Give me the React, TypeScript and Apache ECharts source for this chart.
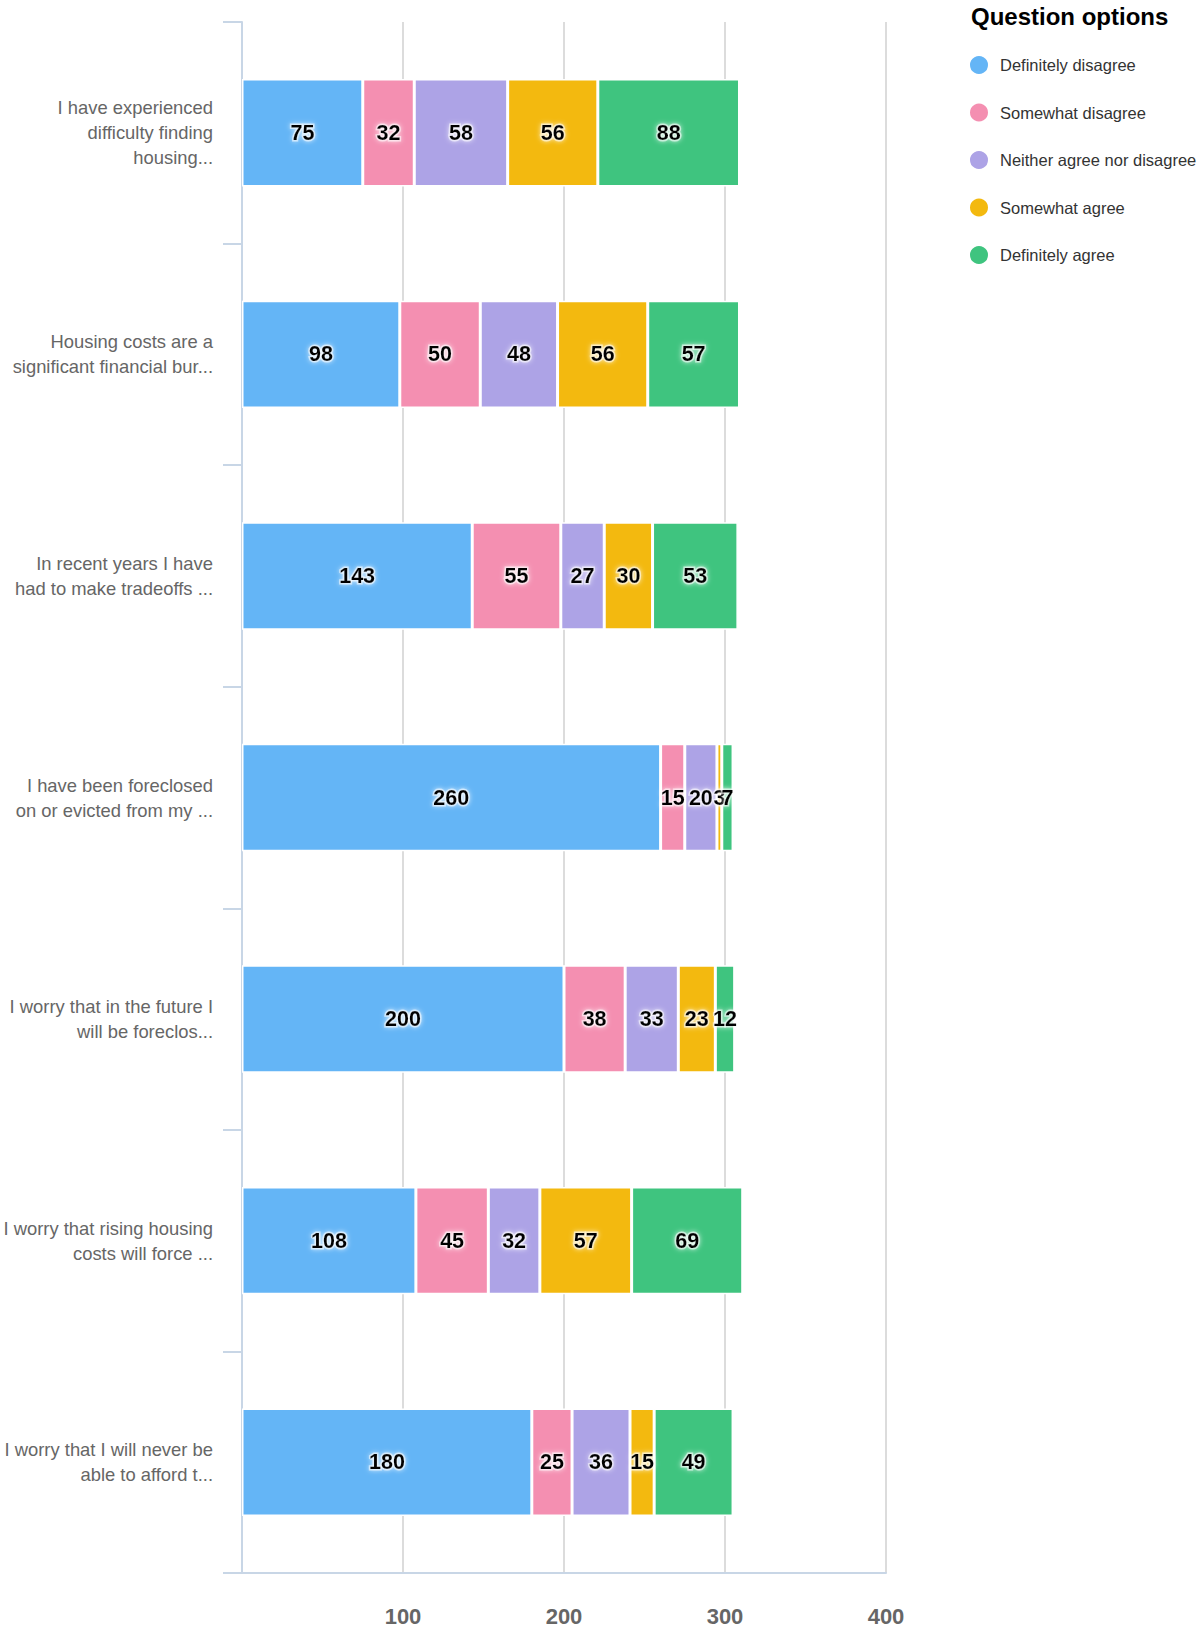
import React, { useEffect, useRef } from "react";
import * as echarts from "echarts";

const categories = [
  "I have experienced\ndifficulty finding\nhousing...",
  "Housing costs are a\nsignificant financial bur...",
  "In recent years I have\nhad to make tradeoffs ...",
  "I have been foreclosed\non or evicted from my ...",
  "I worry that in the future I\nwill be foreclos...",
  "I worry that rising housing\ncosts will force ...",
  "I worry that I will never be\nable to afford t...",
];

const seriesNames = [
  "Definitely disagree",
  "Somewhat disagree",
  "Neither agree nor disagree",
  "Somewhat agree",
  "Definitely agree",
];

const definitelyDisagree = [75, 98, 143, 260, 200, 108, 180];
const somewhatDisagree = [32, 50, 55, 15, 38, 45, 25];
const neither = [58, 48, 27, 20, 33, 32, 36];
const somewhatAgree = [56, 56, 30, 3, 23, 57, 15];
const definitelyAgree = [88, 57, 53, 7, 12, 69, 49];

const seriesValues = [definitelyDisagree, somewhatDisagree, neither, somewhatAgree, definitelyAgree];
const colors = ["#64b5f6", "#f48fb1", "#ada3e6", "#f3b90f", "#3fc47f"];

const xTicks = [0, 100, 200, 300, 400];

const FONT = "'Liberation Sans', Arial, Helvetica, sans-serif";

export default function App() {
  const ref = useRef<HTMLDivElement>(null);
  useEffect(() => {
    if (!ref.current) return;
    const chart = echarts.init(ref.current, undefined, { renderer: "svg" });
    chart.setOption({
      animation: false,
      textStyle: { fontFamily: FONT },
      title: {
        text: "Question options",
        left: 971,
        top: 4,
        padding: 0,
        textStyle: { fontSize: 24, fontWeight: "bold", color: "#000", fontFamily: FONT },
      },
      legend: {
        orient: "vertical",
        left: 968,
        top: 54,
        padding: 0,
        icon: "circle",
        itemWidth: 26,
        itemHeight: 20,
        itemGap: 25.5,
        data: seriesNames,
        textStyle: { fontSize: 16.5, color: "#333", fontFamily: FONT, padding: [0, 0, 0, 3] },
      },
      grid: { left: 242, right: 318, top: 22, bottom: 57, containLabel: false },
      xAxis: {
        type: "value",
        min: xTicks[0],
        max: xTicks[xTicks.length - 1],
        interval: 100,
        axisLine: { show: true, lineStyle: { color: "#c8d6e6", width: 2 } },
        axisTick: { show: false },
        splitLine: { show: true, lineStyle: { color: "#dcdcdc", width: 2 } },
        axisLabel: {
          margin: 32,
          fontSize: 22,
          fontWeight: "bold",
          color: "#666",
          fontFamily: FONT,
          formatter: (v: number) => (v === 0 ? "" : String(v)),
        },
      },
      yAxis: {
        type: "category",
        inverse: true,
        data: categories,
        axisLine: { show: true, lineStyle: { color: "#c8d6e6", width: 2 } },
        axisTick: { show: true, length: 19, lineStyle: { color: "#c8d6e6", width: 2 } },
        axisLabel: {
          margin: 29,
          fontSize: 18.4,
          lineHeight: 25,
          color: "#666",
          align: "right",
          fontFamily: FONT,
        },
      },
      series: seriesNames.map((name, i) => ({
        name,
        type: "bar",
        stack: "total",
        barCategoryGap: "51.5%",
        data: seriesValues[i],
        itemStyle: { color: colors[i], borderColor: "#fff", borderWidth: 1.5 },
        label: {
          show: true,
          position: "inside",
          fontSize: 21.5,
          fontWeight: "bold",
          color: "#000",
          fontFamily: FONT,
          textBorderColor: "rgba(255,255,255,0.55)",
          textBorderWidth: 3,
          textShadowColor: "rgba(255,255,255,0.9)",
          textShadowBlur: 5,
        },
      })),
    });
    return () => chart.dispose();
  }, []);
  return (
    <div
      ref={ref}
      style={{ position: "absolute", left: 0, top: 0, width: 1204, height: 1630 }}
    />
  );
}
